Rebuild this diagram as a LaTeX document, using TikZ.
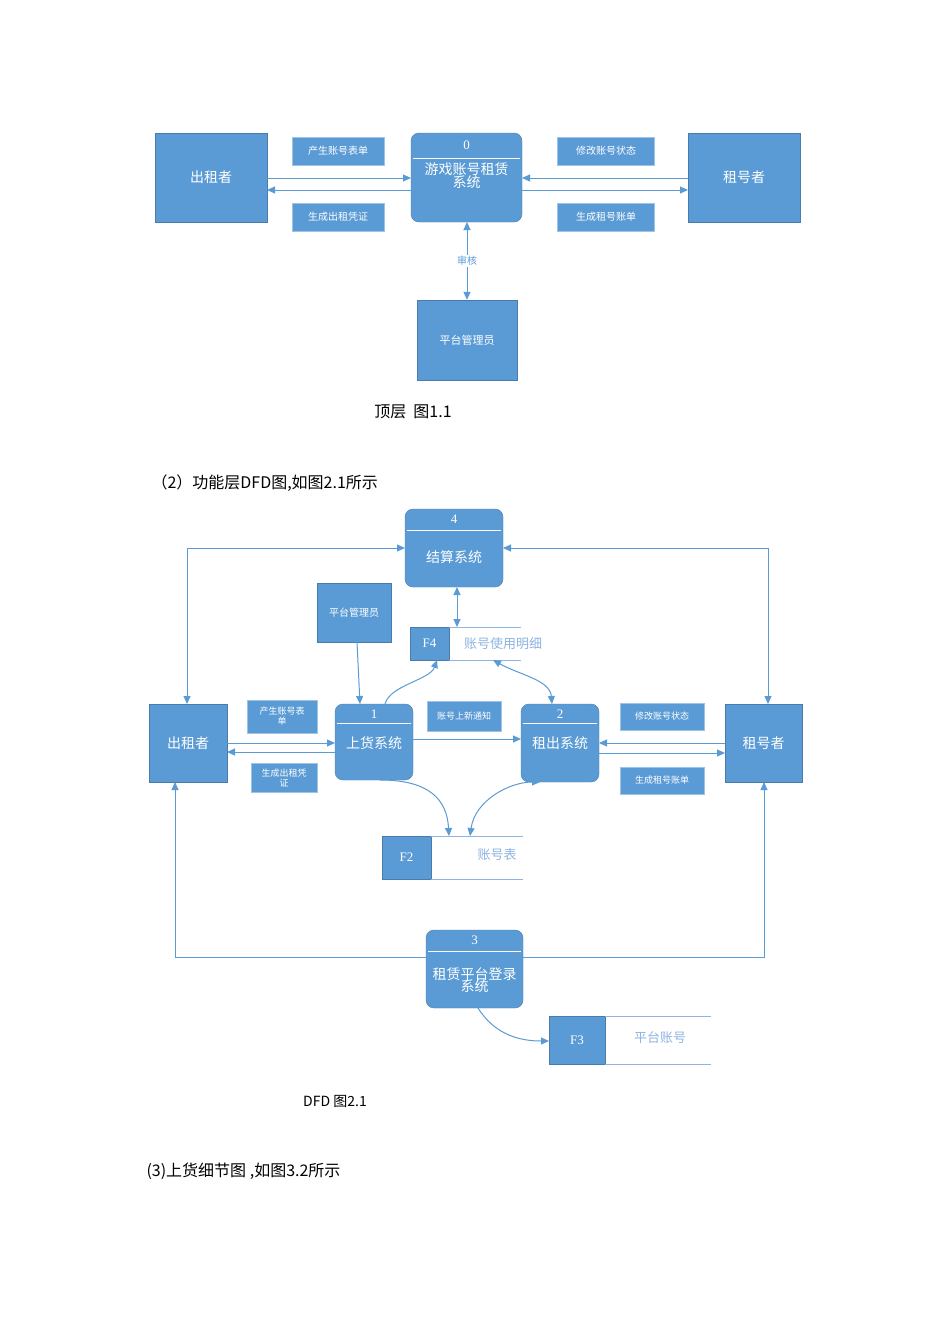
\documentclass[tikz,border=0pt]{standalone}
\usepackage{fontspec}
\setmainfont{Liberation Serif}
\newfontfamily\cjk{Noto Sans CJK SC}
\usetikzlibrary{arrows.meta}
\definecolor{bl}{HTML}{5B9BD5}
\definecolor{lt}{HTML}{8DB4E2}
\begin{document}
\begin{tikzpicture}[x=1pt,y=-1pt,
 ent/.style={fill=bl,draw=bl!80!black,line width=0.4pt,text=white,font=\cjk\fontsize{14}{16}\selectfont,align=center,inner sep=0pt},
 lab/.style={fill=bl,draw=bl!60,text=white,font=\cjk\fontsize{10}{11}\selectfont,align=center,inner sep=0pt},
 proc/.style={fill=bl,rounded corners=8pt,draw=bl!80!black},
 pt/.style={text=white,font=\cjk\fontsize{14}{16}\selectfont,align=center},
 num/.style={text=white,font=\fontsize{13}{14}\selectfont},
 ar/.style={draw=bl,line width=1pt,-{Triangle[length=8pt,width=7pt]}},
 bar/.style={draw=bl,line width=1pt,{Triangle[length=8pt,width=7pt]}-{Triangle[length=8pt,width=7pt]}},
 stl/.style={draw=lt,line width=0.8pt},
 stt/.style={text=lt,font=\cjk\fontsize{13}{15}\selectfont},
 body/.style={font=\cjk\fontsize{16}{18}\selectfont,anchor=west}]
\useasboundingbox[fill=white] (0,0) rectangle (950,1344);
% ---------- Figure 1 ----------
\node[ent,minimum width=112,minimum height=89] (a) at (211,177.5) {出租者};
\fill[proc] (411,133) rectangle (522,222);
\coordinate (s0w) at (411,178); \coordinate (s0e) at (522,178);
\draw[white,line width=0.6pt] (413,158)--(520,158);
\node[num] (n0) at (466.5,145) {0};
\node[pt] (s0) at (466.5,176) {游戏账号租赁\\[-3pt]系统};
\node[ent,minimum width=112,minimum height=89] (b) at (744,177.5) {租号者};
\node[lab,minimum width=92,minimum height=28] (l1) at (338,151) {产生账号表单};
\node[lab,minimum width=92,minimum height=28] (l2) at (338,217) {生成出租凭证};
\node[lab,minimum width=97,minimum height=28] (l3) at (606,151) {修改账号状态};
\node[lab,minimum width=97,minimum height=28] (l4) at (606,217) {生成租号账单};
\node[ent,minimum width=100,minimum height=80] (m) at (467,340) {\fontsize{11}{13}\selectfont 平台管理员};
\draw[ar] (267,178) -- (411,178);
\draw[ar] (411,190) -- (267,190);
\draw[ar] (688,178) -- (522,178);
\draw[ar] (522,190) -- (688,190);
\draw[bar] (467,222) -- (m.north) node[midway,fill=white,text=bl,font=\cjk\fontsize{10}{11}\selectfont,inner sep=1pt] {审核};
\node[font=\cjk\fontsize{16}{18}\selectfont] (c1) at (413,412) {顶层\ \ 图1.1};
\node[body] (t2) at (148,483) {（2）功能层DFD图,如图2.1所示};
% ---------- Figure 2 ----------
\fill[proc] (405,509) rectangle (503,587);
\draw[white,line width=0.6pt] (407,530)--(501,530);
\node[num] at (454,519) {4};
\node[pt] (p4) at (454,557) {结算系统};
\node[ent,minimum width=74,minimum height=59] (m2) at (354,612.5) {\fontsize{10}{12}\selectfont 平台管理员};
% F4
\node[ent,minimum width=39,minimum height=33,font=\fontsize{13}{14}\selectfont] (f4) at (429.5,643.5) {F4};
\draw[stl] (449,627)--(521,627) (449,660)--(521,660);
\node[stt] (f4t) at (503,644) {账号使用明细};
\draw[bar] (457,587) -- (457,627);
\node[ent,minimum width=78,minimum height=78] (c) at (188,743) {出租者};
\fill[proc] (335,704) rectangle (413,780);
\draw[white,line width=0.6pt] (337,723)--(411,723);
\node[num] at (374,714) {1};
\node[pt] (p1) at (374,743) {上货系统};
\fill[proc] (521,704) rectangle (599,782);
\draw[white,line width=0.6pt] (523,723)--(597,723);
\node[num] at (560,714) {2};
\node[pt] (p2) at (560,743) {租出系统};
\node[ent,minimum width=77,minimum height=78] (r) at (763.5,743) {租号者};
\node[lab,minimum width=70,minimum height=33,font=\cjk\fontsize{9}{10}\selectfont] at (282,716.5) {产生账号表\\单};
\node[lab,minimum width=66,minimum height=29,font=\cjk\fontsize{9}{10}\selectfont] at (284,777.5) {生成出租凭\\证};
\node[lab,minimum width=74,minimum height=30,font=\cjk\fontsize{9}{10}\selectfont] at (464,716) {账号上新通知};
\node[lab,minimum width=84,minimum height=27,font=\cjk\fontsize{9}{10}\selectfont] at (662,716.5) {修改账号状态};
\node[lab,minimum width=84,minimum height=27,font=\cjk\fontsize{9}{10}\selectfont] at (662,780.5) {生成租号账单};
\draw[ar] (227,743) -- (335,743);
\draw[ar] (335,752) -- (227,752);
\draw[ar] (413,739) -- (521,739);
\draw[ar] (725,743) -- (599,743);
\draw[ar] (599,753) -- (725,753);
\draw[ar] (357,642) -- (360,704);
\draw[ar] (385,704) .. controls (390,685) and (430,680) .. (437,660);
\draw[bar] (493,660) .. controls (520,675) and (550,680) .. (552,704);
\draw[bar] (187,704) -- (187,548) -- (405,548);
\draw[bar] (768,704) -- (768,548) -- (503,548);
% F2
\node[ent,minimum width=49,minimum height=43,font=\fontsize{13}{14}\selectfont] (f2) at (406.5,857.5) {F2};
\draw[stl] (431,836)--(523,836) (431,879)--(523,879);
\node[stt] at (497,855) {账号表};
\draw[ar] (380,780) .. controls (430,780) and (447,800) .. (449,836);
\draw[bar] (470,836) .. controls (475,800) and (510,782) .. (540,782);
% 3
\fill[proc] (426,930) rectangle (523,1008);
\draw[white,line width=0.6pt] (428,951)--(521,951);
\node[num] at (474.5,940) {3};
\node[pt] (p3) at (474.5,980) {租赁平台登录\\[-4pt]系统};
\draw[ar] (426,957) -- (175,957) -- (175,782);
\draw[ar] (523,957) -- (764,957) -- (764,782);
% F3
\node[ent,minimum width=56,minimum height=48,font=\fontsize{13}{14}\selectfont] (f3) at (577,1040) {F3};
\draw[stl] (605,1016)--(711,1016) (605,1064)--(711,1064);
\node[stt] at (660,1038) {平台账号};
\draw[ar] (478,1008) .. controls (495,1035) and (520,1041) .. (549,1041);
\node[font=\cjk\fontsize{14}{16}\selectfont] at (335,1101) {DFD 图2.1};
\node[body] at (143,1171) {(3)上货细节图 ,如图3.2所示};
\end{tikzpicture}
\end{document}
